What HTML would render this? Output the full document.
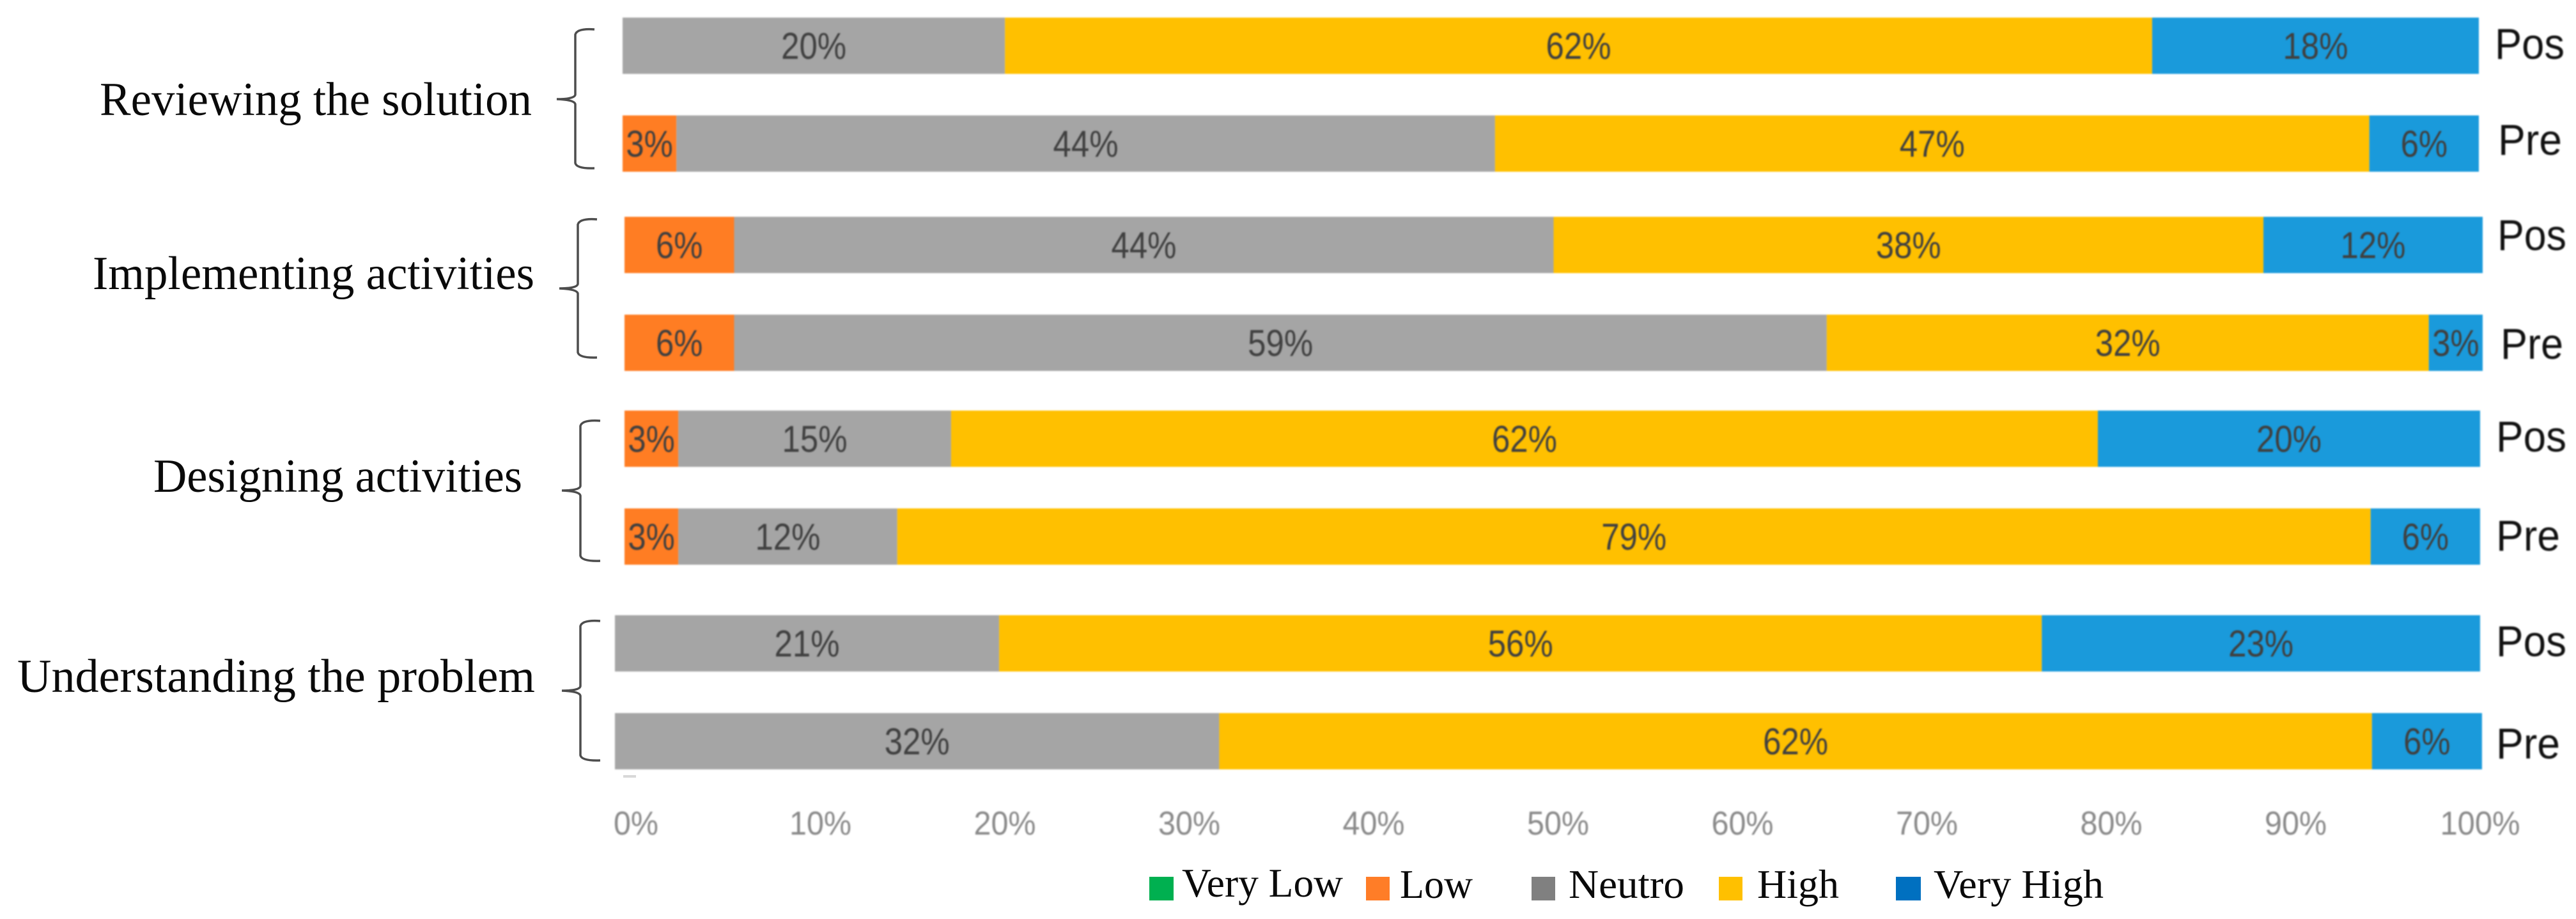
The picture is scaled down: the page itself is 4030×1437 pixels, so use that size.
<!DOCTYPE html>
<html lang="en">
<head>
<meta charset="utf-8">
<title>Pre and Pos self-assessment stacked bars</title>
<style>
  html, body { margin: 0; padding: 0; background: #fff; }
  body { width: 4030px; height: 1437px; overflow: hidden; }
  svg { display: block; }
  .soft { filter: blur(1.1px); }
  .cat { font-family: "Liberation Serif", serif; font-size: 74px; fill: #0a0a0a; }
  .leg { font-family: "Liberation Serif", serif; font-size: 63px; fill: #0a0a0a; }
  .side { font-family: "Liberation Sans", sans-serif; font-size: 68px; fill: #111; }
  .val { font-family: "Liberation Sans", sans-serif; font-size: 58px; fill: #404040; text-anchor: middle; }
  .tick { font-family: "Liberation Sans", sans-serif; font-size: 52px; fill: #8a8a8a; text-anchor: middle; }
  .brace { fill: none; stroke: #4d4d4d; stroke-width: 3.5; }
</style>
</head>
<body>
<svg id="chart" xmlns="http://www.w3.org/2000/svg" width="4030" height="1437" viewBox="0 0 4030 1437">
  <rect x="0" y="0" width="4030" height="1437" fill="#fff"/>
  <g id="bars" class="soft"></g>
  <g id="values" class="soft"></g>
  <g id="ticks" class="soft"></g>

  <g>
    <text class="cat" x="156" y="180" textLength="676" lengthAdjust="spacingAndGlyphs">Reviewing the solution</text>
    <text class="cat" x="145" y="452" textLength="691" lengthAdjust="spacingAndGlyphs">Implementing activities</text>
    <text class="cat" x="240" y="769" textLength="577" lengthAdjust="spacingAndGlyphs">Designing activities</text>
    <text class="cat" x="27" y="1082" textLength="810" lengthAdjust="spacingAndGlyphs">Understanding the problem</text>
  </g>

  <g>
    <path class="brace" d="M930,46 Q903,44 900,54 L900,148 Q899,155 871,155 Q899,156 900,163 L900,255 Q902,264 930,263"/>
    <path class="brace" d="M934,343 Q907,341 904,351 L904,444 Q903,451 875,451 Q903,452 904,459 L904,551 Q906,560 934,559"/>
    <path class="brace" d="M939,658 Q911,656 908,666 L908,760 Q907,767 879,767 Q907,768 908,775 L908,869 Q910,878 939,877"/>
    <path class="brace" d="M939,971 Q911,969 908,979 L908,1073 Q907,1080 879,1080 Q907,1081 908,1088 L908,1181 Q910,1190 939,1189"/>
  </g>

  <g class="soft">
    <text class="side" x="3903" y="92" textLength="109" lengthAdjust="spacingAndGlyphs">Pos</text>
    <text class="side" x="3908" y="242" textLength="100" lengthAdjust="spacingAndGlyphs">Pre</text>
    <text class="side" x="3907" y="391" textLength="108" lengthAdjust="spacingAndGlyphs">Pos</text>
    <text class="side" x="3912" y="561" textLength="98" lengthAdjust="spacingAndGlyphs">Pre</text>
    <text class="side" x="3905" y="706" textLength="110" lengthAdjust="spacingAndGlyphs">Pos</text>
    <text class="side" x="3905" y="861" textLength="100" lengthAdjust="spacingAndGlyphs">Pre</text>
    <text class="side" x="3905" y="1026" textLength="110" lengthAdjust="spacingAndGlyphs">Pos</text>
    <text class="side" x="3905" y="1186" textLength="100" lengthAdjust="spacingAndGlyphs">Pre</text>
  </g>

  <rect x="975" y="1212" width="20" height="4" fill="#d8d8d8"/>

  <g>
    <g>
      <rect x="1798" y="1371" width="38" height="37" fill="#00B050"/>
      <text class="leg" x="1849" y="1402" textLength="252" lengthAdjust="spacingAndGlyphs">Very Low</text>
    </g>
    <g>
      <rect x="2137" y="1371" width="37" height="37" fill="#FF7D27"/>
      <text class="leg" x="2190" y="1404" textLength="114" lengthAdjust="spacingAndGlyphs">Low</text>
    </g>
    <g>
      <rect x="2396" y="1371" width="37" height="37" fill="#808080"/>
      <text class="leg" x="2454" y="1404" textLength="181" lengthAdjust="spacingAndGlyphs">Neutro</text>
    </g>
    <g>
      <rect x="2689" y="1371" width="37" height="37" fill="#FFC000"/>
      <text class="leg" x="2749" y="1404" textLength="128" lengthAdjust="spacingAndGlyphs">High</text>
    </g>
    <g>
      <rect x="2966" y="1371" width="39" height="37" fill="#0070C0"/>
      <text class="leg" x="3025" y="1404" textLength="266" lengthAdjust="spacingAndGlyphs">Very High</text>
    </g>
  </g>
</svg>

<script>
// Chart data, top to bottom: each category has a Pos row, then a Pre row.
const categories = ['Reviewing the solution', 'Implementing activities', 'Designing activities', 'Understanding the problem'];
const periods = ['Pos', 'Pre'];
const lowValues      = [0, 2.9, 5.9, 5.9, 2.9, 2.9, 0, 0];
const neutroValues   = [20.6, 44.1, 44.1, 58.8, 14.7, 11.8, 20.6, 32.4];
const highValues     = [61.8, 47.1, 38.2, 32.4, 61.8, 79.4, 55.9, 61.8];
const veryHighValues = [17.6, 5.9, 11.8, 2.9, 20.6, 5.9, 23.5, 5.9];
const lowLabels      = ['', '3%', '6%', '6%', '3%', '3%', '', ''];
const neutroLabels   = ['20%', '44%', '44%', '59%', '15%', '12%', '21%', '32%'];
const highLabels     = ['62%', '47%', '38%', '32%', '62%', '79%', '56%', '62%'];
const veryHighLabels = ['18%', '6%', '12%', '3%', '20%', '6%', '23%', '6%'];
const tickValues = [0, 10, 20, 30, 40, 50, 60, 70, 80, 90, 100];
const tickLabels = ['0%', '10%', '20%', '30%', '40%', '50%', '60%', '70%', '80%', '90%', '100%'];

// Layout: the source figure is a collage, so each category block has its own axis extent.
const layout = {
  left: [974, 977, 977, 962],
  right: [3878, 3884, 3880, 3880],
  top: [27.5, 339, 642, 962],
  rowStep: 153,
  rowHeight: 88,
  tickLeft: 995,
  tickRight: 3880,
  tickBaseline: 1305
};

const seriesList = [
  { key: 'low', values: lowValues, labels: lowLabels, color: '#FF7D23' },
  { key: 'neutro', values: neutroValues, labels: neutroLabels, color: '#A5A5A5' },
  { key: 'high', values: highValues, labels: highLabels, color: '#FFC000' },
  { key: 'very-high', values: veryHighValues, labels: veryHighLabels, color: '#1A9ADB' }
];

const SVG_NS = 'http://www.w3.org/2000/svg';
const barsLayer = document.getElementById('bars');
const valuesLayer = document.getElementById('values');
const ticksLayer = document.getElementById('ticks');

function xScale(groupIndex, v) {
  const l = layout.left[groupIndex];
  const r = layout.right[groupIndex];
  return l + (v / 100) * (r - l);
}
function yBand(groupIndex, periodIndex) {
  return layout.top[groupIndex] + periodIndex * layout.rowStep;
}
function tickX(v) {
  return layout.tickLeft + (v / 100) * (layout.tickRight - layout.tickLeft);
}
function labelWidth(text, perGlyph) {
  return text.length === 2 ? perGlyph * 0.72 : perGlyph;
}

for (let row = 0; row < lowValues.length; row++) {
  const group = Math.floor(row / periods.length);
  const period = row % periods.length;
  const y = yBand(group, period);
  let cumulative = 0;
  seriesList.forEach(function (series) {
    const v = series.values[row];
    if (v > 0) {
      const x0 = xScale(group, cumulative);
      const x1 = xScale(group, cumulative + v);
      const bar = document.createElementNS(SVG_NS, 'rect');
      bar.setAttribute('x', x0);
      bar.setAttribute('y', y);
      bar.setAttribute('width', x1 - x0);
      bar.setAttribute('height', layout.rowHeight);
      bar.setAttribute('fill', series.color);
      
      
      barsLayer.appendChild(bar);

      const text = series.labels[row];
      if (text) {
        const label = document.createElementNS(SVG_NS, 'text');
        label.setAttribute('class', 'val');
        label.setAttribute('x', (x0 + x1) / 2);
        label.setAttribute('y', y + layout.rowHeight / 2 + 20.5);
        label.setAttribute('textLength', labelWidth(text, 102));
        label.setAttribute('lengthAdjust', 'spacingAndGlyphs');
        
        
        label.textContent = text;
        valuesLayer.appendChild(label);
      }
    }
    cumulative += v;
  });
}

tickValues.forEach(function (v, i) {
  const t = document.createElementNS(SVG_NS, 'text');
  const s = tickLabels[i];
  t.setAttribute('class', 'tick');
  t.setAttribute('x', tickX(v));
  t.setAttribute('y', layout.tickBaseline);
  t.setAttribute('textLength', s.length === 2 ? 70 : (s.length === 3 ? 97 : 125));
  t.setAttribute('lengthAdjust', 'spacingAndGlyphs');
  
  
  t.textContent = s;
  ticksLayer.appendChild(t);
});
</script>
</body>
</html>
